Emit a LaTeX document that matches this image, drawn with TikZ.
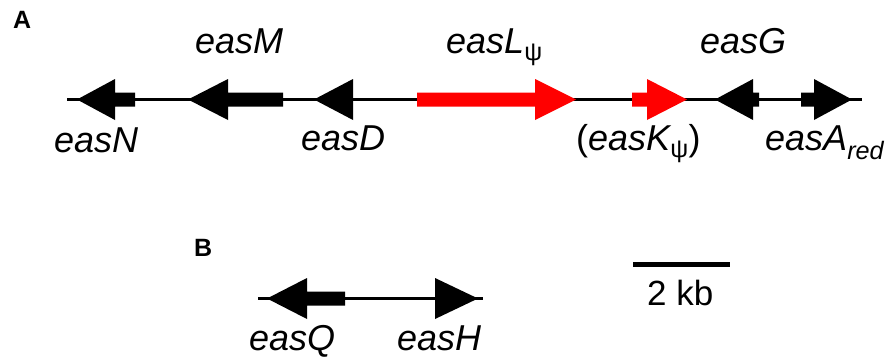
\documentclass[tikz,border=0pt]{standalone}
\usepackage{fontspec}
\setmainfont{Liberation Sans}
\tikzset{
  backbone/.style={line width=3pt, black},
  genelabel/.style={anchor=base west, inner sep=0pt, font=\fontsize{36}{42}\selectfont\itshape},
  panel/.style={anchor=base west, inner sep=0pt, font=\fontsize{25}{30}\selectfont\bfseries},
  scalelabel/.style={anchor=base west, inner sep=0pt, font=\fontsize{35}{41}\selectfont},
}
% gene arrow: fill colour, shaft end, head base, tip, axis y
\newcommand{\genearrow}[5]{%
  \fill[#1] (#2,#5-7) -- (#3,#5-7) -- (#3,#5-20.5) -- (#4,#5) --
            (#3,#5+20.5) -- (#3,#5+7) -- (#2,#5+7) -- cycle;}
\newcommand{\psisub}{\textsubscript{\upshape ψ}}
\begin{document}
\begin{tikzpicture}[x=1pt,y=-1pt]
\useasboundingbox[fill=white] (0,0) rectangle (889,364);

% panel A: backbone and genes
\coordinate (a0) at (67,99.5);
\coordinate (a1) at (862,99.5);
\draw[backbone] (a0) -- (a1);
\genearrow{black}{135}{115}{77}{99.5}   % easN
\genearrow{black}{283}{228}{188}{99.5}  % easM
\genearrow{black}{353}{353}{314}{99.5}  % easD
\genearrow{red}{417}{535}{576}{99.5}    % easL
\genearrow{red}{632}{647}{687}{99.5}    % easK
\genearrow{black}{759}{753}{715}{99.5}  % easG
\genearrow{black}{801}{814}{852}{99.5}  % easA

\node[panel] (pa) at (13,28) {A};
\node[genelabel] (lN) at (54,152) {easN};
\node[genelabel] (lM) at (195,53) {easM};
\node[genelabel] (lD) at (301,150) {easD};
\node[genelabel] (lL) at (446,53) {easL\psisub};
\node[genelabel] (lK) at (576,150) {\upshape(\itshape easK\psisub\upshape)};
\node[genelabel] (lG) at (700,53) {easG};
\node[genelabel] (lA) at (765,150) {easA\textsubscript{red}};

% panel B
\node[panel] (pb) at (194,256) {B};
\coordinate (b0) at (258,298.5);
\coordinate (b1) at (483,298.5);
\draw[backbone] (b0) -- (b1);
\genearrow{black}{345}{307}{267}{298.5}  % easQ
\genearrow{black}{435}{435}{478}{298.5}  % easH
\node[genelabel] (lQ) at (249,350) {easQ};
\node[genelabel] (lH) at (397,350) {easH};

% scale bar
\coordinate (s0) at (633,264.5);
\coordinate (s1) at (730,264.5);
\draw[line width=4.5pt] (s0) -- (s1);
\node[scalelabel] (sk) at (647,305) {2 kb};
\end{tikzpicture}
\end{document}
